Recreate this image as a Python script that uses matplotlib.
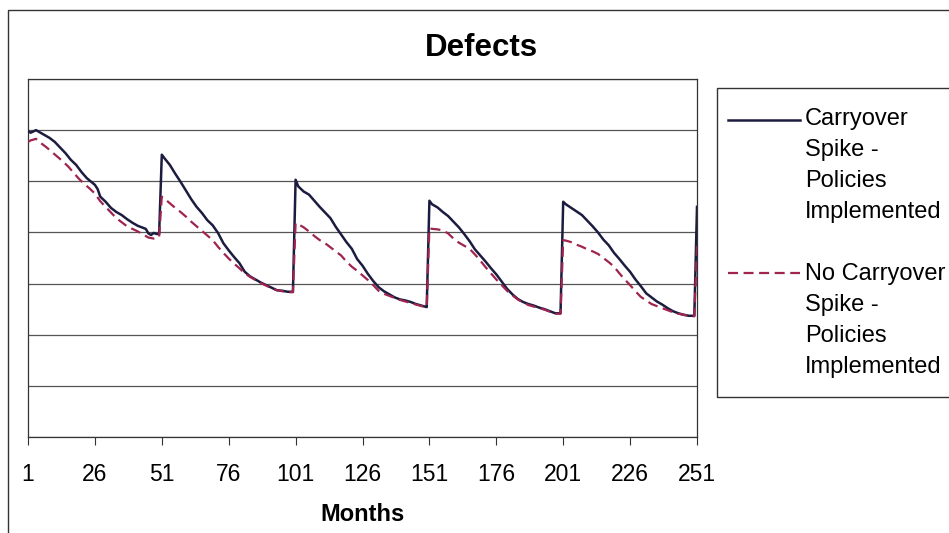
import matplotlib.pyplot as plt
from matplotlib.lines import Line2D
from matplotlib.patches import Rectangle

plt.rcParams['font.family'] = ['Liberation Sans', 'DejaVu Sans']

# months at which the curves were read, and the values there
carry_months = [1, 2, 4, 7, 9, 11, 13, 15, 17, 19, 21, 23, 26, 27, 28, 30, 32, 34, 36, 38, 40, 42, 44, 45, 46, 47, 48, 49, 50,
                51, 52, 54, 56, 58, 60, 62, 64, 66, 68, 70, 72, 74, 76, 78, 80, 82, 84, 86, 88, 90, 92, 94, 96, 98, 100,
                101, 102, 104, 106, 108, 110, 112, 114, 116, 118, 120, 122, 124, 126, 128, 130, 132, 134, 136, 138, 140, 142, 144, 146, 148, 150,
                151, 152, 154, 156, 158, 160, 162, 164, 166, 168, 170, 172, 174, 176, 178, 180, 182, 184, 186, 188, 190, 192, 194, 196, 198, 200,
                201, 202, 204, 206, 208, 210, 212, 214, 216, 218, 220, 222, 224, 226, 228, 230, 232, 234, 236, 238, 240, 242, 244, 246, 248, 250, 251]
carry_values = [5.98, 5.95, 6.00, 5.91, 5.85, 5.77, 5.66, 5.55, 5.42, 5.32, 5.18, 5.06, 4.93, 4.85, 4.70, 4.60, 4.48, 4.40, 4.34, 4.26, 4.19, 4.13, 4.09, 4.07, 3.98, 3.95, 3.99, 3.97, 3.97,
                5.52, 5.45, 5.32, 5.15, 4.99, 4.82, 4.65, 4.50, 4.38, 4.24, 4.14, 3.99, 3.79, 3.65, 3.52, 3.40, 3.23, 3.14, 3.08, 3.02, 2.97, 2.92, 2.87, 2.86, 2.84, 2.84,
                5.03, 4.90, 4.80, 4.74, 4.62, 4.50, 4.39, 4.28, 4.11, 3.96, 3.81, 3.68, 3.48, 3.35, 3.19, 3.05, 2.93, 2.85, 2.79, 2.73, 2.69, 2.67, 2.64, 2.60, 2.57, 2.54,
                4.62, 4.55, 4.49, 4.40, 4.32, 4.21, 4.10, 3.97, 3.83, 3.67, 3.55, 3.43, 3.30, 3.18, 3.04, 2.90, 2.79, 2.70, 2.64, 2.60, 2.57, 2.53, 2.50, 2.46, 2.42, 2.42,
                4.60, 4.55, 4.48, 4.41, 4.34, 4.23, 4.12, 4.00, 3.86, 3.75, 3.60, 3.48, 3.35, 3.23, 3.08, 2.95, 2.81, 2.73, 2.65, 2.59, 2.52, 2.46, 2.42, 2.39, 2.37, 2.37, 4.50]

nocarry_months = [1, 2, 4, 6, 8, 10, 12, 14, 16, 18, 20, 22, 24, 26, 28, 30, 32, 34, 36, 38, 40, 42, 44, 46, 48, 50,
                  51, 52, 54, 56, 58, 60, 62, 64, 66, 68, 70, 72, 74, 76, 78, 80, 82, 84, 86, 88, 90, 92, 94, 96, 98, 100,
                  101, 102, 104, 106, 108, 110, 112, 114, 116, 118, 120, 122, 124, 126, 128, 130, 132, 134, 136, 138, 140, 142, 144, 146, 148, 150,
                  151, 152, 154, 156, 158, 160, 162, 164, 166, 168, 170, 172, 174, 176, 178, 180, 182, 184, 186, 188, 190, 192, 194, 196, 198, 200,
                  201, 202, 204, 206, 208, 210, 212, 214, 216, 218, 220, 222, 224, 226, 228, 230, 232, 234, 236, 238, 240, 242, 244, 246, 248, 250, 251]
nocarry_values = [5.77, 5.80, 5.83, 5.74, 5.66, 5.57, 5.48, 5.39, 5.29, 5.17, 5.05, 4.95, 4.86, 4.76, 4.61, 4.50, 4.39, 4.28, 4.20, 4.12, 4.07, 4.02, 3.96, 3.90, 3.88, 3.91,
                  4.70, 4.66, 4.57, 4.48, 4.40, 4.31, 4.21, 4.12, 4.03, 3.94, 3.85, 3.72, 3.60, 3.49, 3.39, 3.30, 3.20, 3.13, 3.07, 3.01, 2.96, 2.91, 2.87, 2.85, 2.83, 2.83,
                  4.18, 4.16, 4.10, 4.02, 3.93, 3.85, 3.79, 3.71, 3.63, 3.55, 3.43, 3.33, 3.25, 3.16, 3.07, 2.97, 2.86, 2.80, 2.76, 2.72, 2.68, 2.65, 2.62, 2.59, 2.56, 2.54,
                  4.08, 4.07, 4.06, 4.04, 3.98, 3.88, 3.80, 3.74, 3.68, 3.57, 3.45, 3.32, 3.20, 3.08, 2.97, 2.86, 2.77, 2.69, 2.63, 2.58, 2.55, 2.52, 2.49, 2.45, 2.41, 2.41,
                  3.85, 3.84, 3.81, 3.76, 3.72, 3.67, 3.63, 3.58, 3.50, 3.42, 3.33, 3.20, 3.08, 2.97, 2.85, 2.74, 2.67, 2.60, 2.56, 2.52, 2.48, 2.44, 2.41, 2.39, 2.37, 2.36, 3.75]

month_ticks = [1, 26, 51, 76, 101, 126, 151, 176, 201, 226, 251]
labels = ['Carryover\nSpike -\nPolicies\nImplemented',
          'No Carryover\nSpike -\nPolicies\nImplemented']

W, H = 949, 533
solid_color = '#1c1c40'
dash_color = '#a02450'

fig = plt.figure(figsize=(W / 100, H / 100), dpi=100)


def fx(px):
    return px / W


def fy(py):
    return 1 - py / H


# outer chart frame (runs off the right and bottom edges)
fig.add_artist(Rectangle((fx(8), fy(545)), fx(960) - fx(8), fy(10) - fy(545),
                         transform=fig.transFigure, fill=False, ec='#333333', lw=1.0))

ax = fig.add_axes([fx(28), fy(437), fx(697) - fx(28), fy(79) - fy(437)])
ax.plot(carry_months, carry_values, color=solid_color, lw=1.8, zorder=3)
ax.plot(nocarry_months, nocarry_values, color=dash_color, lw=1.6, dashes=(4.5, 2.5), zorder=4)

ax.set_xlim(1, 251)
ax.set_ylim(0, 7)
ax.set_yticks(range(0, 8))
ax.set_yticklabels([])
ax.tick_params(axis='y', length=0)
ax.grid(axis='y', color='#555555', lw=0.9)
ax.set_xticks(month_ticks)
ax.tick_params(axis='x', length=5.8, width=0.8, direction='out', labelsize=16.5, pad=13, color='#333333')
for s in ax.spines.values():
    s.set_color('#333333')
    s.set_linewidth(0.9)
ax.set_xlabel('Months', fontsize=17, fontweight='bold', labelpad=12)

fig.text(fx(481), fy(48), 'Defects', fontsize=22.5, fontweight='bold', ha='center', va='center')

# legend box drawn by hand so the sample line sits beside the first text line
fig.add_artist(Rectangle((fx(717), fy(397)), fx(970) - fx(717), fy(88) - fy(397),
                         transform=fig.transFigure, fill=False, ec='#333333', lw=1.0))
fig.add_artist(Line2D([fx(728), fx(800)], [fy(120), fy(120)], transform=fig.transFigure,
                      color=solid_color, lw=1.8))
fig.add_artist(Line2D([fx(728), fx(800)], [fy(273), fy(273)], transform=fig.transFigure,
                      color=dash_color, lw=1.6, dashes=(4.5, 2.5)))
fig.text(fx(805), fy(108), labels[0], fontsize=17, va='top', ha='left', linespacing=1.53)
fig.text(fx(805), fy(263), labels[1], fontsize=17, va='top', ha='left', linespacing=1.53)

fig.savefig('out.png', dpi=100)
